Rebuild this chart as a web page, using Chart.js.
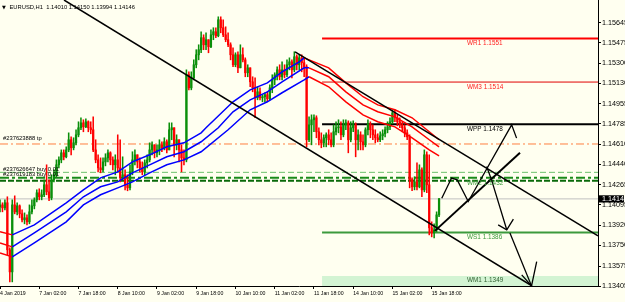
<!DOCTYPE html>
<html><head><meta charset="utf-8">
<script src="https://cdn.jsdelivr.net/npm/chart.js@4/dist/chart.umd.min.js"></script>
<style>html,body{margin:0;padding:0;background:#fffff0;overflow:hidden}canvas{display:block}</style>
</head><body><canvas id="c" width="625" height="302" style="width:625px;height:302px"></canvas>
<script>
// ---------- DATA (EURUSD H1, bar index 0 = 4 Jan 2019 10:00) ----------
const opens = [
1.14078,1.14095,1.14070,1.14113,1.13713,1.13525,1.14095,1.14036,1.14087,1.14019,
1.13968,1.13985,1.13951,1.14036,1.14087,1.14138,1.14198,1.14164,1.14181,1.14266,
1.14206,1.14155,1.14308,1.14351,1.14436,1.14478,1.14538,1.14504,1.14563,1.14649,
1.14581,1.14623,1.14691,1.14751,1.14793,1.14759,1.14802,1.14751,1.14734,1.14563,
1.14478,1.14410,1.14393,1.14461,1.14495,1.14538,1.14478,1.14436,1.14478,1.14410,
1.14325,1.14351,1.14266,1.14240,1.14376,1.14478,1.14521,1.14461,1.14410,1.14376,
1.14453,1.14478,1.14563,1.14606,1.14538,1.14563,1.14606,1.14581,1.14632,1.14563,
1.14734,1.14751,1.14606,1.14649,1.14563,1.14495,1.14478,1.15202,1.15091,1.15176,
1.15287,1.15372,1.15415,1.15517,1.15457,1.15500,1.15440,1.15542,1.15568,1.15534,
1.15670,1.15602,1.15542,1.15500,1.15457,1.15372,1.15287,1.15372,1.15261,1.15372,
1.15329,1.15219,1.15261,1.15142,1.15091,1.15006,1.15057,1.15006,1.15015,1.15032,
1.14998,1.15091,1.15159,1.15202,1.15244,1.15185,1.15244,1.15202,1.15287,1.15312,
1.15244,1.15355,1.15287,1.15346,1.15304,1.15270,1.14649,1.14776,1.14819,1.14836,
1.14717,1.14649,1.14623,1.14666,1.14691,1.14649,1.14606,1.14717,1.14751,1.14759,
1.14691,1.14776,1.14793,1.14649,1.14751,1.14776,1.14649,1.14691,1.14632,1.14606,
1.14734,1.14785,1.14734,1.14691,1.14666,1.14649,1.14683,1.14700,1.14734,1.14759,
1.14802,1.14878,1.14836,1.14802,1.14776,1.14751,1.14708,1.14674,1.14308,1.14249,
1.14291,1.14249,1.14393,1.14223,1.14521,1.14266,1.13900,1.13857,1.13883,1.14010];
const highs = [
1.14138,1.14113,1.14138,1.14164,1.13730,1.14138,1.14172,1.14113,1.14095,1.14053,
1.14027,1.14010,1.14095,1.14138,1.14155,1.14223,1.14232,1.14223,1.14308,1.14436,
1.14308,1.14351,1.14393,1.14478,1.14504,1.14563,1.14563,1.14589,1.14708,1.14674,
1.14666,1.14734,1.14802,1.14836,1.14819,1.14827,1.14810,1.14802,1.14844,1.14649,
1.14521,1.14495,1.14495,1.14530,1.14563,1.14547,1.14504,1.14521,1.14691,1.14649,
1.14504,1.14393,1.14351,1.14436,1.14547,1.14563,1.14521,1.14495,1.14461,1.14478,
1.14521,1.14623,1.14632,1.14606,1.14606,1.14649,1.14632,1.14666,1.14649,1.14793,
1.14793,1.14751,1.14691,1.14649,1.14606,1.14563,1.15244,1.15227,1.15227,1.15329,
1.15415,1.15457,1.15568,1.15542,1.15559,1.15500,1.15585,1.15602,1.15602,1.15695,
1.15695,1.15670,1.15610,1.15559,1.15474,1.15432,1.15389,1.15398,1.15457,1.15432,
1.15346,1.15287,1.15261,1.15185,1.15176,1.15100,1.15091,1.15032,1.15049,1.15057,
1.15117,1.15202,1.15219,1.15270,1.15287,1.15312,1.15287,1.15329,1.15346,1.15329,
1.15398,1.15372,1.15372,1.15372,1.15346,1.15287,1.14844,1.14861,1.14861,1.14853,
1.14751,1.14708,1.14691,1.14708,1.14734,1.14708,1.14776,1.14802,1.14819,1.14802,
1.14819,1.14819,1.14810,1.14802,1.14810,1.14793,1.14734,1.14717,1.14691,1.14751,
1.14819,1.14802,1.14776,1.14734,1.14700,1.14717,1.14734,1.14759,1.14802,1.14836,
1.14904,1.14904,1.14861,1.14836,1.14802,1.14776,1.14734,1.14691,1.14325,1.14334,
1.14453,1.14436,1.14410,1.14563,1.14547,1.14521,1.13951,1.13934,1.14036,1.14150];
const lows = [
1.14036,1.14036,1.14053,1.13670,1.13440,1.13440,1.14019,1.14010,1.13985,1.13951,
1.13934,1.13925,1.13934,1.14019,1.14061,1.14121,1.14138,1.14138,1.14164,1.14181,
1.14130,1.14138,1.14291,1.14334,1.14410,1.14453,1.14478,1.14495,1.14547,1.14521,
1.14563,1.14606,1.14674,1.14734,1.14717,1.14751,1.14717,1.14700,1.14547,1.14453,
1.14376,1.14368,1.14376,1.14427,1.14461,1.14436,1.14393,1.14351,1.14376,1.14291,
1.14308,1.14223,1.14215,1.14223,1.14351,1.14436,1.14410,1.14376,1.14351,1.14351,
1.14410,1.14461,1.14521,1.14495,1.14504,1.14521,1.14547,1.14563,1.14538,1.14563,
1.14649,1.14504,1.14563,1.14461,1.14376,1.14436,1.14461,1.15074,1.15074,1.15159,
1.15261,1.15329,1.15389,1.15415,1.15415,1.15389,1.15432,1.15500,1.15517,1.15525,
1.15559,1.15525,1.15483,1.15440,1.15329,1.15270,1.15270,1.15219,1.15261,1.15312,
1.15185,1.15185,1.15100,1.15057,1.14836,1.14989,1.14989,1.14972,1.14972,1.14972,
1.14989,1.15049,1.15117,1.15159,1.15159,1.15159,1.15176,1.15185,1.15244,1.15176,
1.15227,1.15244,1.15244,1.15227,1.15185,1.14589,1.14632,1.14606,1.14717,1.14666,
1.14606,1.14581,1.14589,1.14589,1.14606,1.14589,1.14589,1.14691,1.14708,1.14649,
1.14674,1.14734,1.14538,1.14632,1.14717,1.14504,1.14563,1.14563,1.14563,1.14589,
1.14691,1.14666,1.14649,1.14623,1.14632,1.14632,1.14649,1.14674,1.14708,1.14734,
1.14785,1.14802,1.14768,1.14751,1.14717,1.14674,1.14649,1.14240,1.14215,1.14223,
1.14223,1.14240,1.14164,1.14206,1.14198,1.13840,1.13823,1.13815,1.13866,1.13994];
const closes = [
1.14095,1.14070,1.14113,1.13713,1.13525,1.14095,1.14036,1.14087,1.14019,1.13968,
1.13985,1.13951,1.14036,1.14087,1.14138,1.14198,1.14164,1.14181,1.14266,1.14206,
1.14155,1.14308,1.14351,1.14436,1.14478,1.14538,1.14504,1.14563,1.14649,1.14581,
1.14623,1.14691,1.14751,1.14793,1.14759,1.14802,1.14751,1.14734,1.14563,1.14478,
1.14410,1.14393,1.14461,1.14495,1.14538,1.14478,1.14436,1.14478,1.14410,1.14325,
1.14351,1.14266,1.14240,1.14376,1.14478,1.14521,1.14461,1.14410,1.14376,1.14453,
1.14478,1.14563,1.14606,1.14538,1.14563,1.14606,1.14581,1.14632,1.14563,1.14734,
1.14751,1.14606,1.14649,1.14563,1.14495,1.14478,1.15202,1.15091,1.15176,1.15287,
1.15372,1.15415,1.15517,1.15457,1.15500,1.15440,1.15542,1.15568,1.15534,1.15670,
1.15602,1.15542,1.15500,1.15457,1.15372,1.15287,1.15372,1.15261,1.15372,1.15329,
1.15219,1.15261,1.15142,1.15091,1.15006,1.15057,1.15006,1.15015,1.15032,1.14998,
1.15091,1.15159,1.15202,1.15244,1.15185,1.15244,1.15202,1.15287,1.15312,1.15244,
1.15355,1.15287,1.15346,1.15304,1.15270,1.14649,1.14776,1.14819,1.14836,1.14717,
1.14649,1.14623,1.14666,1.14691,1.14649,1.14606,1.14717,1.14751,1.14759,1.14691,
1.14776,1.14793,1.14649,1.14751,1.14776,1.14649,1.14691,1.14632,1.14606,1.14734,
1.14785,1.14734,1.14691,1.14666,1.14649,1.14683,1.14700,1.14734,1.14759,1.14802,
1.14878,1.14836,1.14802,1.14776,1.14751,1.14708,1.14674,1.14308,1.14249,1.14291,
1.14249,1.14393,1.14223,1.14521,1.14266,1.13900,1.13857,1.13883,1.14010,1.14146];

// moving-average ribbon (bar index, price)
const maUpperX = [0,5,14,27,34,41,48,54,61,68,75,82,84,95,102,109,115,122,124,134,141,148,154,161,168,175,179];
const maUpperY = [1.13866,1.13840,1.13925,1.14113,1.14223,1.14325,1.14376,1.14461,1.14521,1.14589,1.14623,1.14708,1.14751,1.14972,1.15074,1.15133,1.15227,1.15312,1.15346,1.15261,1.15133,1.15015,1.14946,1.14904,1.14836,1.14717,1.14649];
const maMidX = [0,5,14,27,34,41,48,54,61,68,75,82,89,95,102,109,115,124,126,134,141,148,154,161,168,175,179];
const maMidY = [1.13772,1.13738,1.13857,1.14036,1.14164,1.14249,1.14291,1.14368,1.14436,1.14504,1.14547,1.14632,1.14751,1.14887,1.14989,1.15057,1.15142,1.15261,1.15261,1.15185,1.15057,1.14946,1.14887,1.14844,1.14759,1.14649,1.14589];
const maLowX = [0,5,14,27,34,41,48,54,61,68,75,82,93,102,109,115,124,126,134,141,148,154,161,168,175,179];
const maLowY = [1.13687,1.13653,1.13772,1.13951,1.14095,1.14181,1.14240,1.14291,1.14368,1.14436,1.14478,1.14547,1.14734,1.14904,1.14972,1.15049,1.15159,1.15185,1.15100,1.14972,1.14861,1.14802,1.14759,1.14666,1.14563,1.14512];

// trend channel
const chanLowerX = [26.1, 216.9];
const chanLowerY = [1.15838, 1.13405];
const chanUpperX = [120.3, 243.8];
const chanUpperY = [1.15397, 1.13832];

// projected path drawings
const projAX = [177.3, 212.0];
const projAY = [1.13874, 1.14538];
const projBX = [180.1, 184.1, 186.4, 190.9, 208.6, 210.6];
const projBY = [1.14152, 1.14323, 1.14308, 1.14124, 1.14776, 1.14663];
const projCX = [198.4, 200.4, 206.6];
const projCY = [1.14421, 1.14308, 1.13883];
const headCX = [203.1, 206.6, 209.3];
const headCY = [1.13925, 1.13883, 1.13974];
const projDX = [207.9, 216.7];
const projDY = [1.13855, 1.13406];
const headDX = [212.7, 216.7, 218.8];
const headDY = [1.13500, 1.13406, 1.13613];

// weekly pivot levels
const levelNames = ['WR1', 'WM3', 'WPP', 'WM2', 'WS1', 'WM1'];
const levelValues = [1.1551, 1.1514, 1.1478, 1.1432, 1.1386, 1.1349];
const levelFrom = 131.3;

// order lines
const orderNames = ['#237623888 tp', '#237626647 buy 0.01', '#237619183 buy 0.01', ''];
const orderValues = [1.14613, 1.14372, 1.14326, 1.14300];
const currentPrice = 1.14146;

// axes
const yTicks = [1.15645,1.15475,1.15300,1.15130,1.14955,1.14785,1.14610,1.14440,1.14265,1.14095,1.13920,1.13750,1.13575,1.13405];
const xTickVals = [0,16,32,48,64,80,96,112,128,144,160,176];
const xTickLabels = ['4 Jan 2019','7 Jan 02:00','7 Jan 18:00','8 Jan 10:00','9 Jan 02:00','9 Jan 18:00','10 Jan 10:00','11 Jan 02:00','11 Jan 18:00','14 Jan 10:00','15 Jan 02:00','15 Jan 18:00'];
const header = 'EURUSD,H1  1.14010 1.14150 1.13994 1.14146';

// ---------- BUILD ----------
const X_MIN = 0, X_MAX = 243.8, Y_MIN = 1.13405, Y_MAX = 1.15838;
const pts = (xs, ys) => xs.map((x, i) => ({x, y: ys[i]}));
const candleCol = closes.map((c, i) => c >= opens[i] ? '#0a8f0a' : '#ff0000');
const FONT = '"Liberation Sans", Arial, sans-serif';

function hline(v, from, to, color, width, dash, order) {
  return {type: 'line', data: [{x: from, y: v}, {x: to, y: v}], borderColor: color, borderWidth: width,
    borderDash: dash || [], pointRadius: 0, order};
}
function path(xs, ys, width, order) {
  return {type: 'line', data: pts(xs, ys), borderColor: '#000', borderWidth: width, pointRadius: 0, tension: 0, order};
}
function ma(xs, ys, bFrom, bTo) {
  return {type: 'line', data: pts(xs, ys), borderWidth: 1.5, pointRadius: 0, tension: 0, order: 8,
    borderColor: '#ff0000',
    segment: {borderColor: ctx => (ctx.p0.parsed.x >= bFrom && ctx.p1.parsed.x <= bTo) ? '#0000ff' : '#ff0000'}};
}

const levelColors = ['#ff0000', '#e00000', '#000000', 'rgba(0,0,0,0)', '#3c9a3c', 'rgba(0,0,0,0)'];
const levelWidths = [2, 1, 2, 1, 2, 0];
const levelTextColors = ['#ff2020', '#ff2020', '#000000', '#3c9a3c', '#3c9a3c', '#2f5f2f'];
const orderColors = ['#ff7f40', '#6cc06c', '#1a8a1a', '#0a6a0a'];
const orderDash = [[8, 3, 2, 3], [6, 3], [9, 3, 3, 3], [6, 2]];
const orderWidths = [1, 1, 2, 2];

const datasets = [];
// WM1 zone
datasets.push({type: 'line', data: [{x: levelFrom, y: levelValues[5]}, {x: X_MAX, y: levelValues[5]}],
  borderWidth: 0, borderColor: 'rgba(0,0,0,0)', backgroundColor: '#d3f4d3', fill: 'start', pointRadius: 0, order: 30});
datasets.push(hline(currentPrice, X_MIN, X_MAX, '#c0c0c0', 1, [], 28));
orderValues.forEach((v, i) => datasets.push(hline(v, X_MIN, X_MAX, orderColors[i], orderWidths[i], orderDash[i], 26)));
levelValues.forEach((v, i) => { if (levelWidths[i] > 0) datasets.push(hline(v, levelFrom, X_MAX, levelColors[i], levelWidths[i], [], 24)); });
datasets.push({type: 'bar', data: closes.map((c, i) => ({x: i, y: [lows[i], highs[i]]})), backgroundColor: candleCol,
  barThickness: 0.9, grouped: false, order: 12});
datasets.push({type: 'bar', data: closes.map((c, i) => ({x: i, y: [opens[i], c]})), backgroundColor: candleCol,
  barThickness: 1.6, grouped: false, minBarLength: 1, order: 11});
datasets.push(ma(maUpperX, maUpperY, 5, 124));
datasets.push(ma(maMidX, maMidY, 5, 126));
datasets.push(ma(maLowX, maLowY, 5, 126));
datasets.push(path(chanLowerX, chanLowerY, 1.5, 5));
datasets.push(path(chanUpperX, chanUpperY, 1.5, 5));
datasets.push(path(projAX, projAY, 2, 4));
datasets.push(path(projBX, projBY, 1.3, 4));
datasets.push(path(projCX, projCY, 1.3, 4));
datasets.push(path(headCX, headCY, 1.3, 4));
datasets.push(path(projDX, projDY, 1.3, 4));
datasets.push(path(headDX, headDY, 1.3, 4));

const overlay = {
  id: 'overlay',
  beforeDraw(chart) {
    const c = chart.ctx; c.save(); c.fillStyle = '#fffff0'; c.fillRect(0, 0, chart.width, chart.height); c.restore();
  },
  afterDatasetsDraw(chart) {
    const c = chart.ctx, xs = chart.scales.x, ys = chart.scales.y;
    c.save();
    c.font = '6.4px ' + FONT; c.textBaseline = 'top'; c.textAlign = 'left';
    levelNames.forEach((n, i) => {
      c.fillStyle = levelTextColors[i];
      c.fillText(n + ' ' + levelValues[i].toFixed(4), xs.getPixelForValue(190.4), ys.getPixelForValue(levelValues[i]) + 1.5);
    });
    c.font = '5.8px ' + FONT; c.textBaseline = 'bottom';
    orderNames.forEach((n, i) => {
      if (!n) return;
      c.fillStyle = '#000';
      c.fillText(n, 3, ys.getPixelForValue(orderValues[i]) - (i === 0 ? 3 : 0.5));
    });
    c.restore();
  },
  afterDraw(chart) {
    const c = chart.ctx, ys = chart.scales.y, ca = chart.chartArea;
    c.save();
    // current price tag
    const py = ys.getPixelForValue(currentPrice);
    c.fillStyle = '#000'; c.fillRect(ca.right + 1, py - 3.6, 25, 7.2);
    c.fillStyle = '#fff'; c.font = '7.2px ' + FONT; c.textBaseline = 'middle'; c.textAlign = 'left';
    c.fillText(currentPrice.toFixed(5), ca.right + 4, py + 0.3);
    // header
    c.fillStyle = '#000'; c.font = '5px "DejaVu Sans"'; c.fillText('\u25BC', 2, 7.5);
    c.font = '5.8px ' + FONT; c.fillText(header, 9.5, 7.5);
    c.restore();
  }
};

new Chart(document.getElementById('c'), {
  type: 'bar',
  data: {datasets},
  plugins: [overlay],
  options: {
    responsive: false, animation: false, devicePixelRatio: 1, events: [],
    layout: {padding: 0},
    plugins: {legend: {display: false}, tooltip: {enabled: false}},
    scales: {
      x: {
        type: 'linear', min: X_MIN, max: X_MAX, offset: false,
        afterBuildTicks: s => { s.ticks = xTickVals.map(v => ({value: v})); },
        afterFit: s => { s.height = 16; s.paddingLeft = 0; s.paddingRight = 0; },
        ticks: {autoSkip: false, maxRotation: 0, align: 'start', padding: 1, color: '#000',
          font: {family: FONT, size: 5.2}, callback: v => xTickLabels[xTickVals.indexOf(v)]},
        grid: {display: true, drawOnChartArea: false, drawTicks: true, tickLength: 3, color: '#000', offset: false},
        border: {display: true, color: '#000', width: 1}
      },
      y: {
        type: 'linear', position: 'right', min: Y_MIN, max: Y_MAX,
        afterBuildTicks: s => { s.ticks = yTicks.map(v => ({value: v})); },
        afterFit: s => { s.width = 27; s.paddingTop = 0; s.paddingBottom = 0; },
        ticks: {autoSkip: false, padding: 1, color: '#000', font: {family: FONT, size: 7.2},
          callback: v => Number(v).toFixed(5)},
        grid: {display: true, drawOnChartArea: false, drawTicks: true, tickLength: 3, color: '#000'},
        border: {display: true, color: '#000', width: 1}
      }
    }
  }
});
</script>
</body></html>
